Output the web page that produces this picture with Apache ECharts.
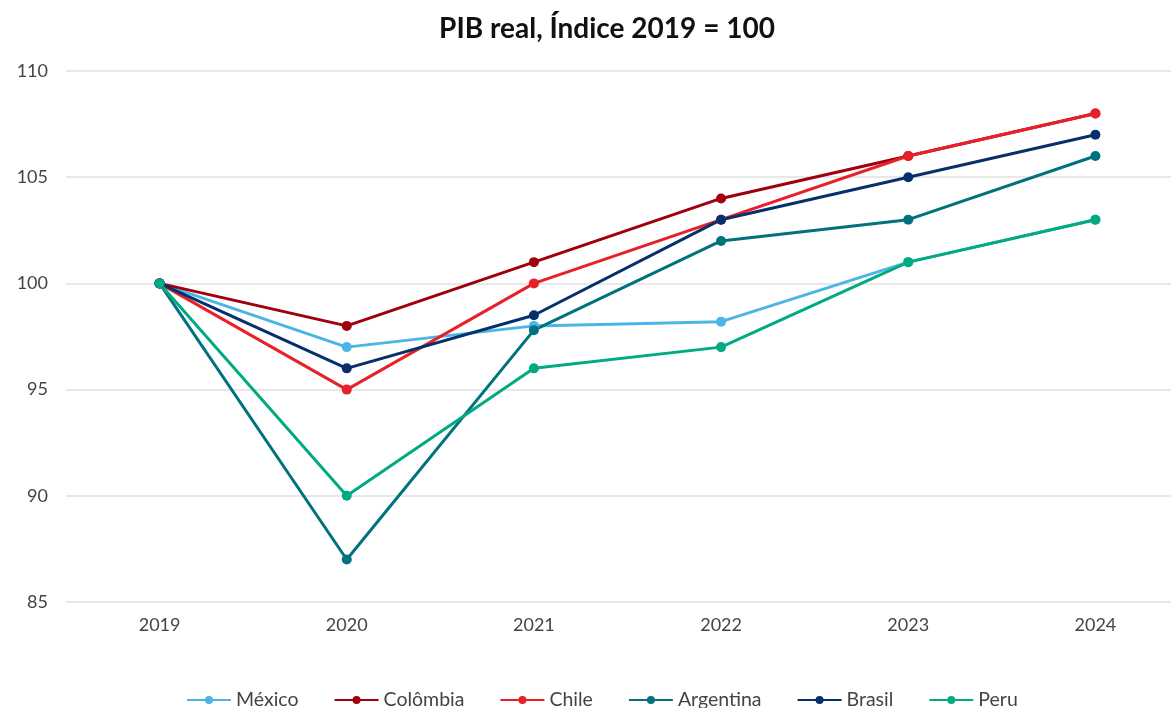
<!DOCTYPE html>
<html>
<head>
<meta charset="utf-8">
<script src="https://cdn.jsdelivr.net/npm/echarts@6/dist/echarts.min.js"></script>
<style>
  html, body { margin: 0; padding: 0; background: #fff; overflow: hidden; }
  /* a bit wider than the window: the plot runs past the right edge like in the original */
  #chart { width: 1189px; height: 708px; }
</style>
</head>
<body>
<div id="chart"></div>
<script>
// anos e séries (índice 2019 = 100)
var years = ['2019', '2020', '2021', '2022', '2023', '2024'];
var mexico = [100, 97, 98, 98.2, 101, 103];
var colombia = [100, 98, 101, 104, 106, 108];
var chile = [100, 95, 100, 103, 106, 108];
var argentina = [100, 87, 97.8, 102, 103, 106];
var brasil = [100, 96, 98.5, 103, 105, 107];
var peru = [100, 90, 96, 97, 101, 103];

var seriesList = [
  { name: 'México', data: mexico, color: '#4BB6E6' },
  { name: 'Colômbia', data: colombia, color: '#A0000E' },
  { name: 'Chile', data: chile, color: '#E8202A' },
  { name: 'Argentina', data: argentina, color: '#00727F' },
  { name: 'Brasil', data: brasil, color: '#06306B' },
  { name: 'Peru', data: peru, color: '#00AB82' }
];

var chart = echarts.init(document.getElementById('chart'));
var font = 'Lato, "Noto Sans", sans-serif';

chart.setOption({
  animation: false,
  title: {
    text: 'PIB real, Índice 2019 = 100',
    left: 602,
    top: 10,
    textAlign: 'center',
    textStyle: { fontFamily: font, fontSize: 28, fontWeight: 'bold', color: '#111' }
  },
  legend: {
    top: 685,
    left: 181,
    itemWidth: 44,
    itemHeight: 10,
    itemGap: 35,
    textStyle: { fontFamily: font, fontSize: 19.5, color: '#444' },
    data: seriesList.map(function (s) { return s.name; })
  },
  grid: {
    left: 66,
    right: 0,
    top: 71,
    bottom: 106,
    containLabel: false
  },
  xAxis: {
    type: 'category',
    data: years,
    boundaryGap: true,
    axisLine: { show: false },
    axisTick: { show: false },
    axisLabel: { fontFamily: font, fontSize: 18, color: '#444', margin: 14 }
  },
  yAxis: {
    type: 'value',
    min: 85,
    max: 110,
    interval: 5,
    axisLine: { show: false },
    axisTick: { show: false },
    axisLabel: { fontFamily: font, fontSize: 18, color: '#444', margin: 18 },
    splitLine: { lineStyle: { color: '#e0e0e0', width: 1.5 } }
  },
  series: seriesList.map(function (s) {
    return {
      name: s.name,
      type: 'line',
      data: s.data,
      color: s.color,
      symbol: 'circle',
      symbolSize: 10,
      lineStyle: { width: 3, color: s.color },
      itemStyle: { color: s.color }
    };
  })
});
</script>
</body>
</html>
